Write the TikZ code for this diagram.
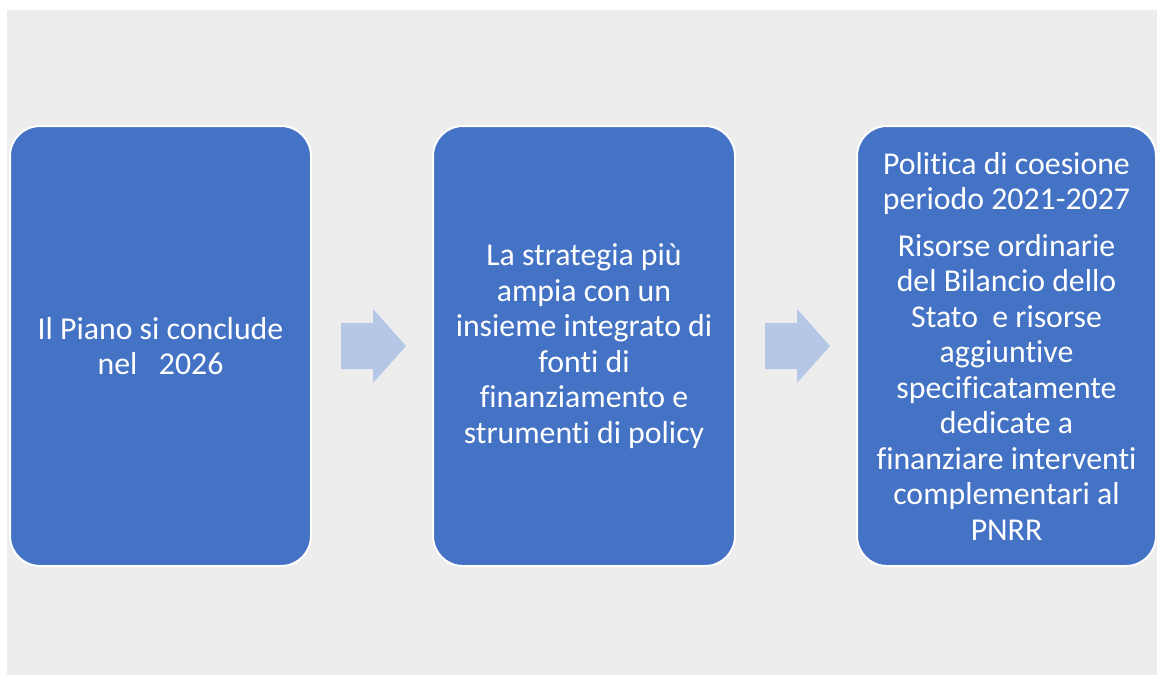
\documentclass[tikz,border=0pt]{standalone}
\usepackage{fontspec}
\setmainfont{Carlito}[Ligatures=NoCommon]
\definecolor{boxblue}{HTML}{4472C4}
\definecolor{arrowblue}{HTML}{B4C7E7}
\definecolor{bggray}{HTML}{EDEDED}
\begin{document}
\begin{tikzpicture}[x=1pt,y=-1pt,
  card/.style={fill=boxblue,draw=white,line width=2pt,rounded corners=30pt},
  cardtext/.style={text=white,align=center,font=\fontsize{31.8}{35.5}\selectfont,inner sep=0pt},
  flowarrow/.style={fill=arrowblue,draw=none}]
\useasboundingbox (0,0) rectangle (1157,675);
\fill[white] (0,0) rectangle (1157,675);
\fill[bggray] (7,10) rectangle (1157,675);
% boxes
\draw[card] (10,126) rectangle (311,566);
\draw[card] (433,126) rectangle (735,566);
\draw[card] (857,126) rectangle (1156,566);
\coordinate (b1) at (160.5,346);
\coordinate (b2) at (584,346);
\coordinate (b3) at (1006.5,346);
\node[cardtext] (t1) at (b1) {Il Piano si conclude\\nel\ \ \ 2026};
\node[cardtext] (t2) at (b2) {La strategia più\\ampia con un\\insieme integrato di\\fonti di\\finanziamento e\\strumenti di policy};
\node[cardtext] (t3) at (b3) {Politica di coesione\\periodo 2021-2027\\[11pt]Risorse ordinarie\\del Bilancio dello\\Stato\ \ e risorse\\aggiuntive\\specificatamente\\dedicate a\\finanziare interventi\\complementari al\\PNRR};
% arrows
\fill[flowarrow] (341,323) -- (373,323) -- (373,309) -- (406,346) -- (373,383) -- (373,369) -- (341,369) -- cycle;
\fill[flowarrow] (765,323) -- (797,323) -- (797,309) -- (830,346) -- (797,383) -- (797,369) -- (765,369) -- cycle;
\end{tikzpicture}
\end{document}
